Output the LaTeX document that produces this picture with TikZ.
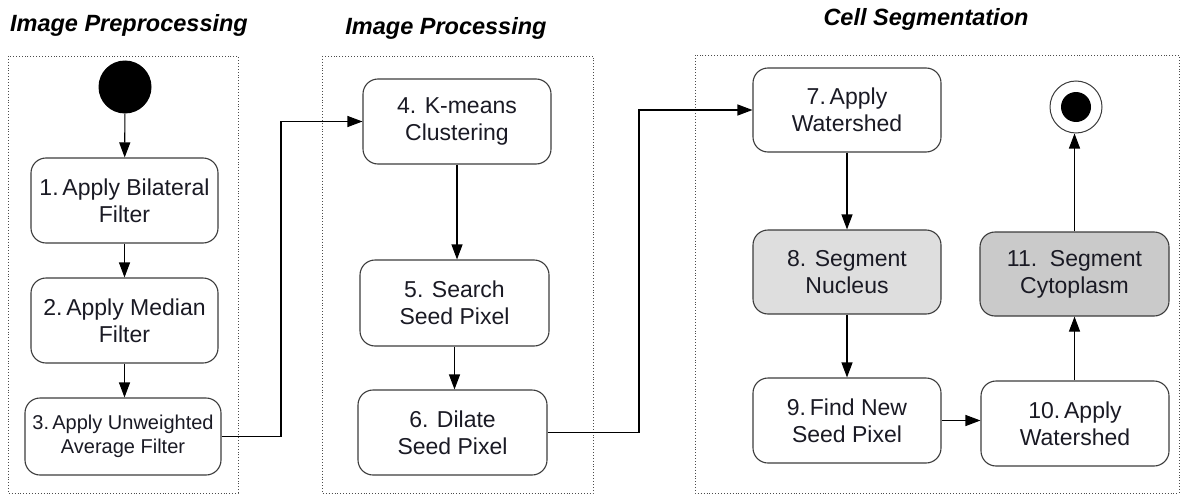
\documentclass[tikz,border=0pt]{standalone}
\usepackage{fontspec}
\setmainfont{Liberation Sans}
\usetikzlibrary{arrows.meta}
\definecolor{txt}{RGB}{26,26,36}
\definecolor{edge}{RGB}{60,60,60}
\definecolor{lightfill}{RGB}{222,222,222}
\definecolor{darkfill}{RGB}{202,202,202}
\tikzset{
  stepbox/.style={draw=edge, line width=1.1pt, rounded corners=15pt, fill=white,
    minimum width=188pt, minimum height=85pt, inner sep=0pt, align=center,
    text=txt, font=\fontsize{23}{27}\selectfont},
  smallbox/.style={stepbox, font=\fontsize{20}{24}\selectfont},
  group/.style={draw=black!70, dotted, line width=0.9pt},
  title/.style={font=\fontsize{23.5}{27}\selectfont\bfseries\itshape, anchor=base, inner sep=0pt},
  arr/.style={line width=1.1pt, -{Triangle[length=15pt,width=11pt]}},
}
\begin{document}
\begin{tikzpicture}[x=1pt,y=-1pt]
\useasboundingbox (0,0) rectangle (1180,495);
% containers
\draw[group] (8,56) rectangle (238,493);
\draw[group] (322,56) rectangle (593,493);
\draw[group] (695,55) rectangle (1179,493);
% titles
\node[title] (t1) at (129,32) {Image Preprocessing};
\node[title] (t2) at (446,35) {Image Processing};
\node[title] (t3) at (926,26) {Cell Segmentation};
% start / end
\node[circle, fill=black, minimum size=53pt, inner sep=0pt] (start) at (125,87) {};
\node[circle, draw=edge, line width=1pt, fill=white, minimum size=52pt, inner sep=0pt] (endo) at (1076,107) {};
\node[circle, fill=black, minimum size=30pt, inner sep=0pt] (endi) at (1076,107) {};
% boxes
\node[stepbox, minimum width=187pt] (b1) at (124.5,200.5) {1.\,Apply Bilateral\\Filter};
\node[stepbox, minimum width=187pt] (b2) at (124.5,320.5) {2.\,Apply Median\\Filter};
\node[smallbox, minimum width=196pt, minimum height=77pt] (b3) at (123,436.5) {3.\,Apply Unweighted\\Average Filter};
\node[stepbox] (b4) at (457,121.5) {4. K-means\\Clustering};
\node[stepbox, minimum width=189pt, minimum height=86pt] (b5) at (454.5,303) {5. Search\\Seed Pixel};
\node[stepbox, minimum width=189pt] (b6) at (452.5,432.5) {6. Dilate\\Seed Pixel};
\node[stepbox, minimum height=84pt] (b7) at (847,110) {7.\,Apply\\Watershed};
\node[stepbox, minimum height=84pt, fill=lightfill] (b8) at (847,272) {8. Segment\\Nucleus};
\node[stepbox] (b9) at (847,420.5) {9.\,Find New\\Seed Pixel};
\node[stepbox] (b10) at (1075,423.5) {10.\,Apply\\Watershed};
\node[stepbox, minimum width=189pt, minimum height=84pt, fill=darkfill] (b11) at (1074.5,274) {11.\ \ Segment\\Cytoplasm};
% helper coordinates
\coordinate (c1) at (281,436.5);
\coordinate (c2) at (639,432.5);
% connectors
\draw[arr] (start) -- (b1);
\draw[arr] (b1) -- (b2);
\draw[arr] (b2.south) -- (b2.south |- b3.north);
\draw[arr] (b3.east) -- (c1) |- (b4.west);
\draw[arr] (b4.south) -- (b4.south |- b5.north);
\draw[arr] (b5.south) -- (b5.south |- b6.north);
\draw[arr] (b6.east) -- (c2) |- (b7.west);
\draw[arr] (b7) -- (b8);
\draw[arr] (b8) -- (b9);
\draw[arr] (b9.east) -- (b9.east -| b10.west);
\draw[arr] (b10.north -| b11.south) -- (b11.south);
\draw[arr] (b11.north) -- (b11.north |- endo.south);
\end{tikzpicture}
\end{document}
